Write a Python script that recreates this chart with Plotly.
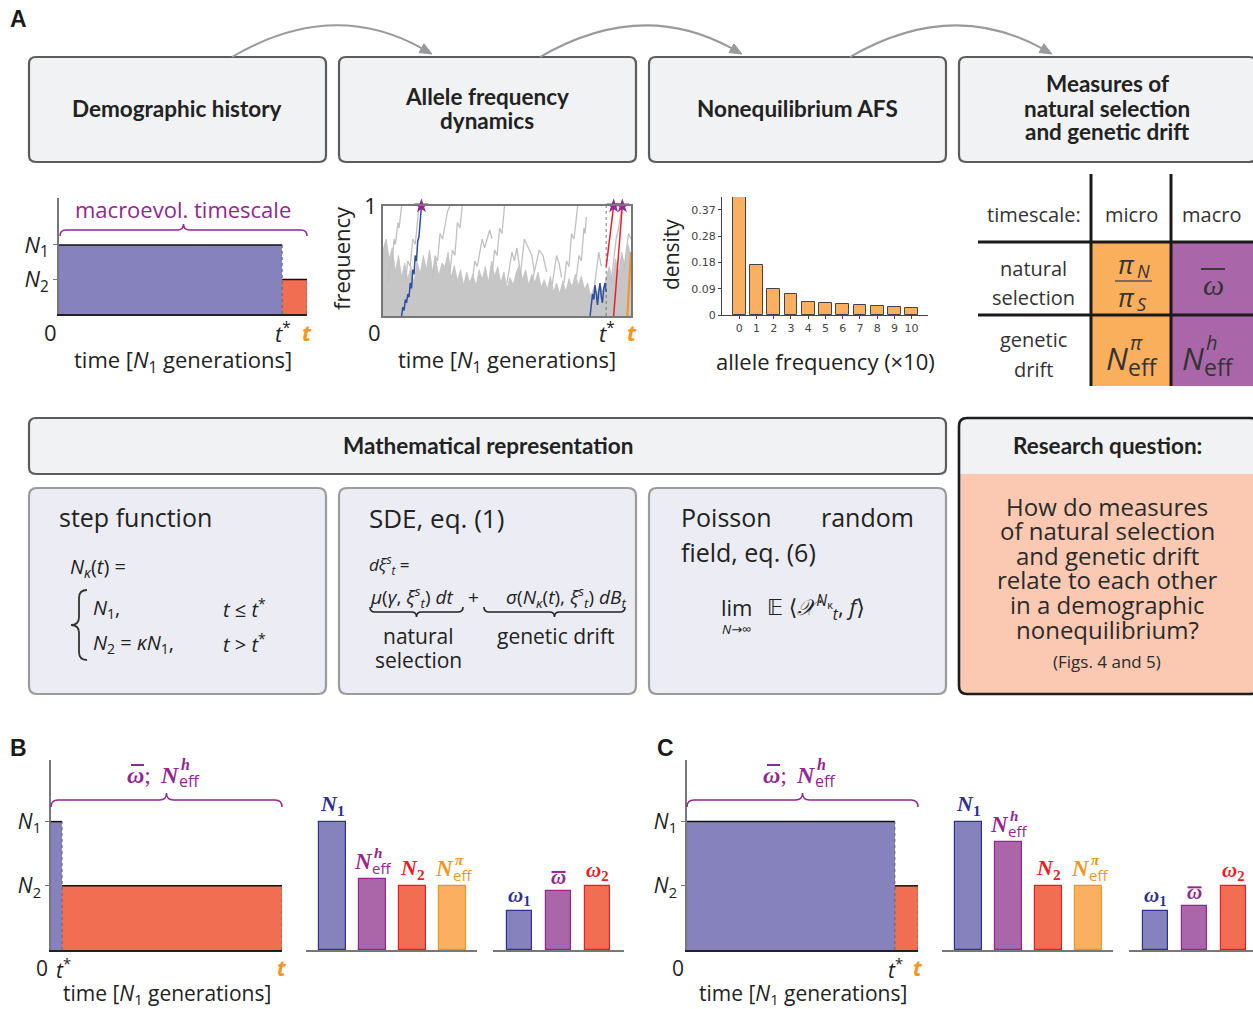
import plotly.graph_objects as go

W, H = 1253, 1009

# ---------------- data ----------------
# Panel A: demographic history (time as fraction of span; sizes relative to N1)
A_demo_times = [0.0, 0.9, 1.0]          # 0, t*, t
A_demo_sizes = [1.0, 0.5]               # N1, N2

# Panel A: allele-frequency trajectories (hand-read)
traj_tstar = 0.9
bulk_x = [0.0, 0.0125, 0.025, 0.0375, 0.05, 0.0625, 0.075, 0.0875, 0.1, 0.1125, 0.125, 0.1375, 0.15,
          0.1625, 0.175, 0.1875, 0.2, 0.2125, 0.225, 0.2375, 0.25, 0.2625, 0.275, 0.2875, 0.3, 0.3125,
          0.325, 0.3375, 0.35, 0.3625, 0.375, 0.3875, 0.4, 0.4125, 0.425, 0.4375, 0.45, 0.4625, 0.475,
          0.4875, 0.5, 0.5125, 0.525, 0.5375, 0.55, 0.5625, 0.575, 0.5875, 0.6, 0.6125, 0.625, 0.6375,
          0.65, 0.6625, 0.675, 0.6875, 0.7, 0.7125, 0.725, 0.7375, 0.75, 0.7625, 0.775, 0.7875, 0.8,
          0.8125, 0.825, 0.8375, 0.85, 0.8625, 0.875, 0.8875, 0.9, 0.9125, 0.925, 0.9375, 0.95, 0.9625,
          0.975, 0.9875, 1.0]
bulk_y = [0.60, 0.70, 0.52, 0.62, 0.40, 0.55, 0.35, 0.48, 0.33, 0.45, 0.30, 0.50, 0.38,
          0.55, 0.42, 0.60, 0.40, 0.52, 0.36, 0.48, 0.45, 0.58, 0.35, 0.46, 0.32, 0.42,
          0.28, 0.40, 0.30, 0.38, 0.27, 0.42, 0.33, 0.45, 0.30, 0.50, 0.36, 0.45, 0.30,
          0.40, 0.25, 0.35, 0.28, 0.40, 0.46, 0.33, 0.42, 0.28, 0.38, 0.30, 0.40, 0.26,
          0.33, 0.24, 0.36, 0.22, 0.30, 0.20, 0.32, 0.22, 0.34, 0.26, 0.38, 0.28, 0.36,
          0.24, 0.30, 0.18, 0.26, 0.20, 0.28, 0.22, 0.35, 0.45, 0.32, 0.52, 0.40, 0.58,
          0.45, 0.65, 0.55]
gray_x = [[0.02, 0.03, 0.035, 0.045, 0.05, 0.06, 0.065, 0.075],
          [0.09, 0.10, 0.11, 0.12, 0.13, 0.14, 0.145],
          [0.20, 0.21, 0.22, 0.23, 0.24, 0.26, 0.27],
          [0.27, 0.28, 0.29, 0.30, 0.31, 0.32],
          [0.36, 0.37, 0.38, 0.40, 0.41, 0.43, 0.44],
          [0.44, 0.45, 0.46, 0.47, 0.48, 0.49],
          [0.50, 0.51, 0.52, 0.53, 0.54, 0.55],
          [0.55, 0.56, 0.57, 0.58, 0.60, 0.61],
          [0.60, 0.62, 0.63, 0.645, 0.66],
          [0.68, 0.69, 0.70, 0.71, 0.72],
          [0.73, 0.74, 0.75, 0.76, 0.77, 0.78, 0.785],
          [0.78, 0.79, 0.80, 0.81, 0.815, 0.82],
          [0.85, 0.86, 0.87, 0.88],
          [0.92, 0.93, 0.94, 0.95, 0.96, 0.97],
          [0.97, 0.98, 0.99, 1.0]]
gray_y = [[0.30, 0.50, 0.45, 0.70, 0.65, 0.85, 0.80, 1.0],
          [0.30, 0.50, 0.45, 0.70, 0.65, 0.90, 1.0],
          [0.35, 0.55, 0.50, 0.75, 0.70, 0.95, 1.0],
          [0.40, 0.60, 0.55, 0.85, 0.80, 1.0],
          [0.30, 0.50, 0.45, 0.70, 0.62, 0.78, 0.70],
          [0.40, 0.60, 0.55, 0.80, 0.75, 1.0],
          [0.30, 0.45, 0.58, 0.50, 0.62, 0.45],
          [0.30, 0.50, 0.70, 0.65, 0.55, 0.40],
          [0.30, 0.50, 0.60, 0.55, 0.40],
          [0.25, 0.40, 0.55, 0.48, 0.35],
          [0.30, 0.50, 0.45, 0.75, 0.70, 0.95, 1.0],
          [0.35, 0.55, 0.50, 0.80, 0.75, 0.90],
          [0.22, 0.40, 0.58, 0.45],
          [0.30, 0.50, 0.70, 0.80, 0.95, 1.0],
          [0.40, 0.60, 0.75, 0.70]]
blue_x = [[0.075, 0.08, 0.085, 0.09, 0.095, 0.10, 0.105, 0.11, 0.115, 0.12, 0.125, 0.13, 0.135,
           0.14, 0.145, 0.15, 0.155],
          [0.835, 0.84, 0.845, 0.85, 0.855, 0.86, 0.865, 0.87, 0.875, 0.88, 0.885, 0.89, 0.895, 0.90]]
blue_y = [[0.0, 0.08, 0.05, 0.15, 0.12, 0.20, 0.17, 0.30, 0.25, 0.42, 0.38, 0.55, 0.50, 0.68, 0.72,
           0.88, 1.0],
          [0.0, 0.08, 0.20, 0.15, 0.28, 0.20, 0.10, 0.22, 0.30, 0.18, 0.12, 0.25, 0.30, 0.22]]
red_x = [[0.90, 0.905, 0.91, 0.915, 0.92, 0.925, 0.93],
         [0.93, 0.935, 0.94, 0.945, 0.95, 0.955, 0.96, 0.965]]
red_y = [[0.45, 0.55, 0.60, 0.72, 0.80, 0.90, 1.0],
         [0.0, 0.15, 0.30, 0.45, 0.60, 0.75, 0.90, 1.0]]
orange_x = [0.985, 0.99, 0.992, 0.995, 1.0]
orange_y = [0.0, 0.20, 0.35, 0.45, 0.58]
fix_x = [0.155, 0.93, 0.965]
fix_y = [1.0, 1.0, 1.0]

# Panel A: allele frequency spectrum
afs_bins = list(range(11))
afs_density = [0.415, 0.175, 0.092, 0.074, 0.046, 0.042, 0.039, 0.035, 0.032, 0.028, 0.026]
afs_tickvals = [0, 0.0925, 0.185, 0.2775, 0.37]
afs_ticktext = ['0', '0.09', '0.18', '0.28', '0.37']

# Panels B and C
B_demo_times = [0.0, 0.048, 1.0]
C_demo_times = [0.0, 0.9, 1.0]
BC_demo_sizes = [1.0, 0.5]
B_size_vals = [1.0, 0.55, 0.5, 0.5]      # N1, N_eff^h, N2, N_eff^pi
C_size_vals = [1.0, 0.84, 0.5, 0.5]
B_omega_vals = [0.30, 0.46, 0.50]        # omega1, omega-bar, omega2
C_omega_vals = [0.30, 0.34, 0.50]

# ---------------- styling ----------------
SANS = "Open Sans, DejaVu Sans, sans-serif"
BOLD = "Lato, DejaVu Sans, sans-serif"
SERIF = "Liberation Serif, DejaVu Serif, serif"
HEAD = "Liberation Sans, Arial, sans-serif"
INK = '#222222'
BLUE_F, BLUE_L = '#8682bd', '#2e3192'
PURP_F, PURP_L = '#a966a9', '#92278f'
RED_F, RED_L = '#f26e52', '#ed1c24'
ORNG_F, ORNG_L = '#fbb061', '#f7941d'
TAB_OR, TAB_PU = '#f9af5c', '#a966a9'


def P(x, y):
    return x / W, 1 - y / H


def dom_x(a, b):
    return [a / W, b / W]


def dom_y(top, bottom):
    return [1 - bottom / H, 1 - top / H]


def path_str(cmds):
    out = []
    for c in cmds:
        pts = ' '.join('%.5f,%.5f' % P(*p) for p in c[1:])
        out.append(c[0] + ' ' + pts if pts else c[0])
    return ' '.join(out)


shapes = []
annos = []


def add_path(cmds, fill=None, color=None, width=0):
    d = dict(type='path', xref='paper', yref='paper', path=path_str(cmds),
             line=dict(color=color or 'rgba(0,0,0,0)', width=width))
    if fill:
        d['fillcolor'] = fill
    shapes.append(d)


def rrect(x0, y0, x1, y1, r, fill=None, color=None, width=0, bottom_round=True):
    rb = r if bottom_round else 0
    cmds = [('M', (x0 + r, y0)), ('L', (x1 - r, y0)), ('Q', (x1, y0), (x1, y0 + r)),
            ('L', (x1, y1 - rb))]
    if rb:
        cmds.append(('Q', (x1, y1), (x1 - rb, y1)))
    cmds.append(('L', (x0 + rb, y1)))
    if rb:
        cmds.append(('Q', (x0, y1), (x0, y1 - rb)))
    cmds += [('L', (x0, y0 + r)), ('Q', (x0, y0), (x0 + r, y0)), ('Z',)]
    add_path(cmds, fill, color, width)


def line(x0, y0, x1, y1, color, width):
    a, b = P(x0, y0)
    c, d = P(x1, y1)
    shapes.append(dict(type='line', xref='paper', yref='paper', x0=a, y0=b, x1=c, y1=d,
                       line=dict(color=color, width=width)))


def brace_h(x0, x1, y, h, color, width, up=True):
    s = 1 if up else -1
    xm = (x0 + x1) / 2
    cmds = [('M', (x0, y + s * h)), ('Q', (x0, y), (x0 + h, y)), ('L', (xm - h, y)),
            ('Q', (xm, y), (xm, y - s * h)), ('Q', (xm, y), (xm + h, y)), ('L', (x1 - h, y)),
            ('Q', (x1, y), (x1, y + s * h))]
    add_path(cmds, None, color, width)


def brace_v(x, y0, y1, w, color, width):
    ym = (y0 + y1) / 2
    cmds = [('M', (x + w, y0)), ('Q', (x, y0), (x, y0 + w)), ('L', (x, ym - w)),
            ('Q', (x, ym), (x - w, ym)), ('Q', (x, ym), (x, ym + w)), ('L', (x, y1 - w)),
            ('Q', (x, y1), (x + w, y1))]
    add_path(cmds, None, color, width)


def arrow(x0, x1, y0=57, y1=54, peak=27, color='#9a9a9a'):
    cx = (x0 + x1) / 2
    cy = 2 * peak - 0.5 * (y0 + y1)
    dx, dy = x1 - cx, y1 - cy
    n = (dx * dx + dy * dy) ** 0.5
    dx, dy = dx / n, dy / n
    bx, by = x1 - 12 * dx, y1 - 12 * dy
    add_path([('M', (x0, y0)), ('Q', (cx, cy), (bx, by))], None, color, 2)
    add_path([('M', (x1, y1)), ('L', (bx - 5 * dy, by + 5 * dx)), ('L', (bx + 5 * dy, by - 5 * dx)), ('Z',)],
             color, color, 1)


def T(x, y, text, size=20, color=INK, family=SANS, xanchor='center', yanchor='middle', angle=0):
    a, b = P(x, y)
    annos.append(dict(x=a, y=b, xref='paper', yref='paper', text=text, showarrow=False,
                      font=dict(size=size, color=color, family=family), borderpad=0,
                      xanchor=xanchor, yanchor=yanchor, textangle=angle))


def D(x, y, xref, yref, text, size, color, family, xanchor='center', yanchor='bottom', xshift=0, yshift=0):
    annos.append(dict(x=x, y=y, xref=xref, yref=yref, text=text, showarrow=False, borderpad=0,
                      font=dict(size=size, color=color, family=family),
                      xanchor=xanchor, yanchor=yanchor, xshift=xshift, yshift=yshift))


# ---------------- figure ----------------
fig = go.Figure()
layout_axes = {}


def set_axes(i, xd, yd, xr, yr, xkw=None, ykw=None):
    base = dict(showgrid=False, zeroline=False, fixedrange=True, showticklabels=False, ticks='')
    xa = dict(base, domain=xd, range=xr, anchor='y%d' % i if i > 1 else 'y')
    ya = dict(base, domain=yd, range=yr, anchor='x%d' % i if i > 1 else 'x')
    xa.update(xkw or {})
    ya.update(ykw or {})
    layout_axes['xaxis%s' % ('' if i == 1 else i)] = xa
    layout_axes['yaxis%s' % ('' if i == 1 else i)] = ya


def ref(i):
    return ('x', 'y') if i == 1 else ('x%d' % i, 'y%d' % i)


def demo_plot(i, times, sizes):
    xr, yr = ref(i)
    mids = [(a + b) / 2 for a, b in zip(times[:-1], times[1:])]
    widths = [b - a for a, b in zip(times[:-1], times[1:])]
    fig.add_trace(go.Bar(x=mids, y=sizes, width=widths, marker=dict(color=[BLUE_F, RED_F], line=dict(width=0)),
                         xaxis=xr, yaxis=yr, showlegend=False, hoverinfo='skip'))
    for k in range(len(sizes)):
        fig.add_trace(go.Scatter(x=[times[k], times[k + 1]], y=[sizes[k], sizes[k]], mode='lines',
                                 line=dict(color='#111', width=1.5), xaxis=xr, yaxis=yr, showlegend=False,
                                 hoverinfo='skip'))
    for k in range(1, len(times)):
        fig.add_trace(go.Scatter(x=[times[k], times[k]], y=[0, sizes[k - 1]], mode='lines',
                                 line=dict(color='#666', width=1, dash='dot'), xaxis=xr, yaxis=yr,
                                 showlegend=False, hoverinfo='skip'))


def demo_axes_kw(sizes, fsize):
    xkw = dict(showline=True, linecolor='#222', linewidth=1.5)
    ykw = dict(showline=True, linecolor='#777', linewidth=1.5, ticks='outside', ticklen=4, tickcolor='#777',
               showticklabels=True, tickvals=sizes,
               ticktext=['<i>N</i><sub>1</sub>', '<i>N</i><sub>2</sub>'],
               tickfont=dict(size=fsize, color=INK, family=SANS))
    return xkw, ykw


# ---- A1 demographic history ----
xk, yk = demo_axes_kw(A_demo_sizes, 22)
set_axes(1, dom_x(59, 307), dom_y(198, 314), [0, 1], [0, 1.68], xk, yk)
demo_plot(1, A_demo_times, A_demo_sizes)

# ---- A2 trajectories ----
frame = dict(showline=True, mirror=True, linecolor='#777', linewidth=1.5)
set_axes(2, dom_x(383, 631), dom_y(206, 316), [0, 1], [0, 1],
         dict(frame), dict(frame, showticklabels=True, tickvals=[1], ticktext=['1'],
                           tickfont=dict(size=22, color=INK, family=SANS)))
fig.add_trace(go.Scatter(x=bulk_x, y=bulk_y, mode='lines', fill='tozeroy', fillcolor='#c6c6c6',
                         line=dict(color='#c0c0c0', width=0.8), xaxis='x2', yaxis='y2', showlegend=False,
                         hoverinfo='skip'))
for gx, gy in zip(gray_x, gray_y):
    fig.add_trace(go.Scatter(x=gx, y=gy, mode='lines', line=dict(color='#c0c0c0', width=1.3),
                             xaxis='x2', yaxis='y2', showlegend=False, hoverinfo='skip'))
fig.add_trace(go.Scatter(x=[traj_tstar, traj_tstar], y=[0, 1], mode='lines',
                         line=dict(color='#777', width=1, dash='dot'), xaxis='x2', yaxis='y2',
                         showlegend=False, hoverinfo='skip'))
for bx_, by_ in zip(blue_x, blue_y):
    fig.add_trace(go.Scatter(x=bx_, y=by_, mode='lines', line=dict(color='#2c4fa3', width=1.5),
                             xaxis='x2', yaxis='y2', showlegend=False, hoverinfo='skip'))
for rx_, ry_ in zip(red_x, red_y):
    fig.add_trace(go.Scatter(x=rx_, y=ry_, mode='lines', line=dict(color='#e8202a', width=1.5),
                             xaxis='x2', yaxis='y2', showlegend=False, hoverinfo='skip'))
fig.add_trace(go.Scatter(x=orange_x, y=orange_y, mode='lines', line=dict(color=ORNG_L, width=2),
                         xaxis='x2', yaxis='y2', showlegend=False, hoverinfo='skip'))
fig.add_trace(go.Scatter(x=fix_x, y=fix_y, mode='markers', marker=dict(symbol='star', size=11, color=PURP_L),
                         xaxis='x2', yaxis='y2', showlegend=False, hoverinfo='skip', cliponaxis=False))

# ---- A3 AFS ----
set_axes(3, dom_x(722, 928), dom_y(197, 315), [-1, 10.95], [0, 0.415],
         dict(showline=True, linecolor='#444', linewidth=1.2, showticklabels=True, tickvals=afs_bins,
              ticks='outside', ticklen=3, tickcolor='#444',
              tickfont=dict(size=11, color='#444', family='DejaVu Sans')),
         dict(showline=True, linecolor='#444', linewidth=1.2, showticklabels=True, tickvals=afs_tickvals,
              ticktext=afs_ticktext, ticks='outside', ticklen=3, tickcolor='#444',
              tickfont=dict(size=11, color='#444', family='DejaVu Sans')))
fig.add_trace(go.Bar(x=afs_bins, y=afs_density, width=0.74,
                     marker=dict(color=ORNG_F, line=dict(color='#444', width=1)),
                     xaxis='x3', yaxis='y3', showlegend=False, hoverinfo='skip'))

# ---- B and C ----
bar_x = dict(showline=True, linecolor='#777', linewidth=1.5)


def size_bars(i, vals):
    xr, yr = ref(i)
    fig.add_trace(go.Bar(x=list(range(len(vals))), y=vals, width=0.675,
                         marker=dict(color=[BLUE_F, PURP_F, RED_F, ORNG_F],
                                     line=dict(color=[BLUE_L, PURP_L, RED_L, ORNG_L], width=1.2)),
                         xaxis=xr, yaxis=yr, showlegend=False, hoverinfo='skip'))
    D(0, vals[0], xr, yr, '<b><i>N</i><sub>1</sub></b>', 22, BLUE_L, SERIF, yshift=2)
    D(2, vals[2], xr, yr, '<b><i>N</i><sub>2</sub></b>', 22, RED_L, SERIF, yshift=2)
    for k, sup, col in [(1, 'h', PURP_L), (3, 'π', ORNG_L)]:
        D(k, vals[k], xr, yr, '<b><i>N</i></b>', 23, col, SERIF, xanchor='right', xshift=2, yshift=4)
        D(k, vals[k], xr, yr, 'eff', 15, col, SANS, xanchor='left', xshift=-1, yshift=0)
        D(k, vals[k], xr, yr, '<b><i>%s</i></b>' % sup, 15, col, SERIF, xanchor='left', xshift=1, yshift=17)


def omega_bars(i, vals):
    xr, yr = ref(i)
    fig.add_trace(go.Bar(x=list(range(len(vals))), y=vals, width=0.64,
                         marker=dict(color=[BLUE_F, PURP_F, RED_F],
                                     line=dict(color=[BLUE_L, PURP_L, RED_L], width=1.2)),
                         xaxis=xr, yaxis=yr, showlegend=False, hoverinfo='skip'))
    D(0, vals[0], xr, yr, '<b><i>ω</i><sub>1</sub></b>', 21, BLUE_L, SERIF, yshift=1)
    D(1, vals[1], xr, yr, '<b><i>ω</i></b>', 21, PURP_L, SERIF, yshift=1)
    D(2, vals[2], xr, yr, '<b><i>ω</i><sub>2</sub></b>', 21, RED_L, SERIF, yshift=1)
    shapes.append(dict(type='line', xref=xr, yref=yr, xsizemode='pixel', ysizemode='pixel',
                       xanchor=1, yanchor=vals[1], x0=-7, x1=7, y0=19, y1=19,
                       line=dict(color=PURP_L, width=2)))


for off, times, svals, ovals, idx in [(0, B_demo_times, B_size_vals, B_omega_vals, 4),
                                       (636, C_demo_times, C_size_vals, C_omega_vals, 7)]:
    xk, yk = demo_axes_kw(BC_demo_sizes, 21)
    set_axes(idx, dom_x(51 + off, 282 + off), dom_y(760, 950), [0, 1], [0, 1.48], xk, yk)
    demo_plot(idx, times, BC_demo_sizes)
    set_axes(idx + 1, dom_x(306 + off, 477 + off), dom_y(760, 950), [-0.66, 3.61], [0, 1.48], dict(bar_x),
             dict(visible=False))
    size_bars(idx + 1, svals)
    right = min(624 + off, W)
    set_axes(idx + 2, dom_x(493 + off, right), dom_y(760, 950),
             [-0.68, -0.68 + (right - 493 - off) / 39.0], [0, 1.48], dict(bar_x), dict(visible=False))
    omega_bars(idx + 2, ovals)
    xr, yr = ref(idx)
    t0, ts, te = times
    ylab = P(0, 968)[1]
    D(t0, ylab, xr, 'paper', '0', 21, INK, SANS, yanchor='middle', xshift=-9)
    D(ts, ylab, xr, 'paper', '<i>t</i><sup>*</sup>', 21, INK, SANS, yanchor='middle', xshift=1)
    D(te, ylab, xr, 'paper', '<b><i>t</i></b>', 21, ORNG_L, SANS, yanchor='middle')
    T(167 + off, 994, 'time [<i>N</i><sub>1</sub> generations]', 21)
    # bracket and its label
    brace_h(51 + off, 282 + off, 800, 7, PURP_L, 1.5, up=True)
    T(139 + off, 775, '<b><i>ω</i></b>;', 24, PURP_L, SERIF, xanchor='center')
    line(131 + off, 765, 144 + off, 765, PURP_L, 2)
    T(181 + off, 775, '<b><i>N</i></b>', 24, PURP_L, SERIF, xanchor='right')
    T(178 + off, 781, 'eff', 16, PURP_L, SANS, xanchor='left')
    T(180 + off, 764, '<b><i>h</i></b>', 16, PURP_L, SERIF, xanchor='left')

# A1 / A2 x labels
for x_, y_, t_, c_ in [(50, 332, '0', INK), (283, 332, '<i>t</i><sup>*</sup>', INK),
                       (307, 332, '<b><i>t</i></b>', ORNG_L),
                       (374, 332, '0', INK), (607, 332, '<i>t</i><sup>*</sup>', INK),
                       (632, 332, '<b><i>t</i></b>', ORNG_L)]:
    T(x_, y_, t_, 22, c_)
T(183, 361, 'time [<i>N</i><sub>1</sub> generations]', 22)
T(507, 361, 'time [<i>N</i><sub>1</sub> generations]', 22)
T(341, 258, 'frequency', 22, angle=-90)
T(671, 255, 'density', 21, angle=-90)
T(825, 361, 'allele frequency (×10)', 22)
brace_h(60, 307, 230, 6, PURP_L, 1.5, up=True)
T(183, 209, 'macroevol. timescale', 22, PURP_L)

# ---------------- boxes and arrows ----------------
BOX_F = '#f1f2f4'
for x0 in [29, 339, 649, 959]:
    rrect(x0, 57, x0 + 297, 162, 7, BOX_F, '#5c5c5c', 2.2)
arrow(232, 432)
arrow(540, 742)
arrow(850, 1052)
T(177, 108, '<b>Demographic history</b>', 22.5, family=BOLD)
T(487, 96, '<b>Allele frequency</b>', 22.5, family=BOLD)
T(487, 120, '<b>dynamics</b>', 22.5, family=BOLD)
T(797, 108, '<b>Nonequilibrium AFS</b>', 22.5, family=BOLD)
T(1107, 83, '<b>Measures of</b>', 22.5, family=BOLD)
T(1107, 108, '<b>natural selection</b>', 22.5, family=BOLD)
T(1107, 132, '<b>and genetic drift</b>', 22.5, family=BOLD)

# table
shapes.append(dict(type='rect', xref='paper', yref='paper', x0=P(1091, 0)[0], x1=P(1171, 0)[0],
                   y0=P(0, 386)[1], y1=P(0, 242)[1], fillcolor=TAB_OR, line=dict(width=0)))
shapes.append(dict(type='rect', xref='paper', yref='paper', x0=P(1171, 0)[0], x1=1.0,
                   y0=P(0, 386)[1], y1=P(0, 242)[1], fillcolor=TAB_PU, line=dict(width=0)))
line(1091, 174, 1091, 386, '#1a1a1a', 3)
line(1171, 174, 1171, 386, '#1a1a1a', 3)
line(978, 242, 1253, 242, '#1a1a1a', 3)
line(978, 315, 1253, 315, '#1a1a1a', 3)
T(1034, 214, 'timescale:', 20, '#333')
T(1131, 214, 'micro', 20, '#333')
T(1211, 214, 'macro', 20, '#333')
T(1033, 268, 'natural', 20, '#333')
T(1033, 297, 'selection', 20, '#333')
T(1033, 340, 'genetic', 20, '#333')
T(1033, 370, 'drift', 20, '#333')
T(1126, 264, '<i>π</i>', 26, '#333', SANS)
T(1136, 271, '<i>N</i>', 18, '#333', SANS, xanchor='left')
line(1115, 281, 1152, 281, '#555', 1.6)
T(1126, 297, '<i>π</i>', 26, '#333', SANS)
T(1136, 304, '<i>S</i>', 18, '#333', SANS, xanchor='left')
T(1213, 284, '<i>ω</i>', 30, '#333', SERIF)
line(1201, 269, 1225, 269, '#333', 1.8)
for cx, sup in [(1117, 'π'), (1193, 'h')]:
    T(cx, 358, '<i>N</i>', 31, '#333', SANS)
    T(cx + 10, 367, 'eff', 23, '#333', SANS, xanchor='left')
    T(cx + 12, 342, '<i>%s</i>' % sup, 20, '#333', SANS, xanchor='left')

# mathematical representation
rrect(29, 418, 946, 474, 7, BOX_F, '#5c5c5c', 2.2)
T(488, 445, '<b>Mathematical representation</b>', 22.5, family=BOLD)
SUB_F = '#ececf4'
for x0 in [29, 339, 649]:
    rrect(x0, 488, x0 + 297, 694, 8, SUB_F, '#9b9b9b', 2.2)

T(58, 517, 'step function', 25, xanchor='left')
T(69, 567, '<i>N</i><sub><i>κ</i></sub>(<i>t</i>) =', 20, xanchor='left')
brace_v(79, 590, 660, 8, '#333', 1.8)
T(92, 608, '<i>N</i><sub>1</sub>,', 20, xanchor='left')
T(222, 608, '<i>t</i> ≤ <i>t</i><sup>*</sup>', 20, xanchor='left')
T(92, 643, '<i>N</i><sub>2</sub> = <i>κN</i><sub>1</sub>,', 20, xanchor='left')
T(222, 643, '<i>t</i> > <i>t</i><sup>*</sup>', 20, xanchor='left')

T(368, 518, 'SDE, eq. (1)', 26, xanchor='left')
T(368, 564, '<i>dξ</i><sup><i>s</i></sup><sub><i>t</i></sub> =', 17, xanchor='left')
T(369, 597, '<i>μ</i>(<i>γ</i>, <i>ξ</i><sup><i>s</i></sup><sub><i>t</i></sub>) <i>dt</i>', 19, xanchor='left')
T(473, 597, '+', 19)
T(627, 597, '<i>σ</i>(<i>N</i><sub><i>κ</i></sub>(<i>t</i>), <i>ξ</i><sup><i>s</i></sup><sub><i>t</i></sub>) <i>dB</i><sub><i>t</i></sub>',
  19, xanchor='right')
brace_h(370, 463, 612, 5, '#222', 1.6, up=False)
brace_h(484, 625, 612, 5, '#222', 1.6, up=False)
T(418, 636, 'natural', 21)
T(418, 660, 'selection', 21)
T(555, 636, 'genetic drift', 21)

T(680, 517, 'Poisson', 25, xanchor='left')
T(915, 517, 'random', 25, xanchor='right')
T(680, 552, 'field, eq. (6)', 25, xanchor='left')
T(736, 607, 'lim', 22)
T(736, 629, '<i>N</i>→∞', 13)
T(766, 607, '𝔼 ⟨<i>𝒳</i><sup><i>N</i><sub>κ</sub></sup><sub><i>t</i></sub>, <i>f</i>⟩', 22, xanchor='left')

# research question
rrect(959, 418, 1258, 694, 8, '#fbc8b1', None, 0)
rrect(959, 418, 1258, 474, 8, BOX_F, None, 0, bottom_round=False)
rrect(959, 418, 1258, 694, 8, None, '#1e1e1e', 2.6)
T(1107, 446, '<b>Research question:</b>', 22.5, family=BOLD)
for k, s in enumerate(['How do measures', 'of natural selection', 'and genetic drift',
                       'relate to each other', 'in a demographic', 'nonequilibrium?']):
    T(1107, 506 + 24.6 * k, s, 24, '#2a2a2a')
T(1107, 661, '(Figs. 4 and 5)', 17, '#2a2a2a')

# panel letters
T(18, 19, '<b>A</b>', 23, '#1a1a1a', HEAD)
T(18, 748, '<b>B</b>', 23, '#1a1a1a', HEAD)
T(665, 748, '<b>C</b>', 23, '#1a1a1a', HEAD)

fig.update_layout(width=W, height=H, margin=dict(l=0, r=0, t=0, b=0), template='none',
                  plot_bgcolor='rgba(0,0,0,0)', paper_bgcolor='white', showlegend=False,
                  shapes=shapes, annotations=annos, font=dict(family=SANS, color=INK),
                  bargap=0, **layout_axes)
fig.write_html('out.html')
